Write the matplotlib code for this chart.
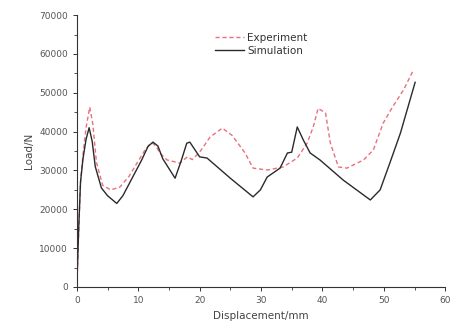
import matplotlib
matplotlib.use("Agg")
import matplotlib.pyplot as plt
from matplotlib.ticker import MultipleLocator

# experiment (red dashed)
exp_x = [0, 0.3, 0.6, 1.0, 1.5, 2.1, 2.6, 3.2, 4.2, 5.5, 7.0, 8.5, 9.8, 11.0, 11.8, 12.4,
         13.0, 13.5, 14.7, 16.8, 18.0, 18.8, 20.0, 21.7, 23.7, 25.3, 27.4, 28.7, 31.0,
         33.6, 35.9, 37.5, 38.5, 39.3, 39.8, 40.5, 41.3, 42.6, 44.0, 46.7, 48.3,
         49.9, 51.4, 53.2, 54.8]
exp_y = [0, 14000, 27000, 34000, 41000, 46300, 42000, 32000, 26200, 25000, 25700, 28500, 31900,
         35000, 36600, 37000, 36000, 34500, 32700, 31900, 33500, 32800, 34700, 38600, 40900,
         39000, 34500, 30600, 30100, 30900, 33200, 37000, 41200, 46000, 45500, 44800, 37000,
         30900, 30600, 32700, 35300, 42200, 46300, 50700, 55800]

# simulation (black solid)
sim_x = [0, 0.3, 0.6, 1.0, 1.5, 2.0, 2.5, 3.0, 4.0, 5.0, 6.5, 7.5, 9.0, 10.5, 11.6, 12.4,
         13.2, 14.0, 16.0, 17.0, 17.9, 18.4, 20.0, 21.2, 25.0, 28.7, 29.9, 31.0, 33.1,
         34.3, 35.0, 35.9, 36.9, 38.0, 39.6, 43.4, 47.8, 49.4, 51.0, 52.7, 55.1]
sim_y = [0, 15000, 27000, 33000, 38000, 41000, 37500, 31000, 25500, 23500, 21500, 23500,
         28000, 32500, 36200, 37300, 36300, 33000, 28000, 32500, 37000, 37300, 33500, 33200,
         28000, 23200, 25000, 28300, 30600, 34500, 34700, 41200, 37800, 34500, 32700, 27500,
         22400, 25000, 32000, 39600, 52700]

fig = plt.figure(figsize=(4.52, 3.36), dpi=100)
ax = fig.add_axes([0.170, 0.146, 0.815, 0.809])

ax.plot(exp_x, exp_y, color="#e8707c", ls=(0, (3, 2)), lw=1.0, label="Experiment")
ax.plot(sim_x, sim_y, color="#2a2a2a", ls="-", lw=1.0, label="Simulation")

ax.set_xlim(0, 60)
ax.set_ylim(0, 70000)
ax.xaxis.set_major_locator(MultipleLocator(10))
ax.xaxis.set_minor_locator(MultipleLocator(5))
ax.yaxis.set_major_locator(MultipleLocator(10000))
ax.yaxis.set_minor_locator(MultipleLocator(5000))
ax.spines["top"].set_visible(False)
ax.spines["right"].set_visible(False)
for s in ("left", "bottom"):
    ax.spines[s].set_color("#333333")
    ax.spines[s].set_linewidth(0.8)
ax.tick_params(which="major", length=3, width=0.7, labelsize=6.5, colors="#333333", labelcolor="#555555")
ax.tick_params(which="minor", length=2, width=0.6, colors="#333333")

ax.set_xlabel("Displacement/mm", fontsize=7.5, color="#444444", labelpad=4)
ax.set_ylabel("Load/N", fontsize=7.5, color="#444444", labelpad=4)

leg = ax.legend(loc="upper left", bbox_to_anchor=(0.35, 0.97), frameon=False,
                fontsize=7.5, handlelength=2.8, handletextpad=0.3, labelspacing=0.3)
for t in leg.get_texts():
    t.set_color("#333333")

fig.savefig("out.png", dpi=100)
